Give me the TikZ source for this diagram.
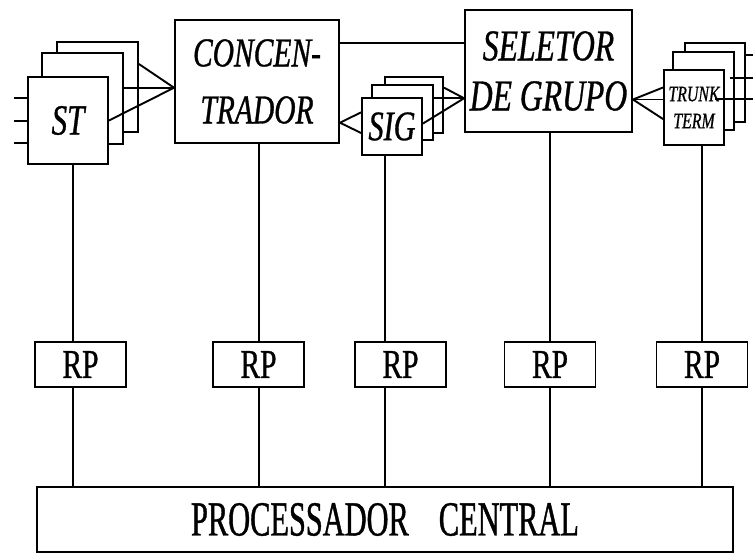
\documentclass[tikz,border=0pt]{standalone}
\usepackage{fontspec}
\setmainfont{Liberation Serif}[FakeStretch=0.72, FakeBold=0.8]
\newfontfamily\procfont{Liberation Serif}[FakeStretch=0.62, FakeBold=0.8]
\usetikzlibrary{calc}

\begin{document}
\begin{tikzpicture}[
  x=1pt, y=-1pt,
  box/.style={draw, line width=1.9pt, fill=white, inner sep=0pt},
  lnk/.style={line width=1.9pt},
  bus/.style={line width=1.1pt},
  rp/.style={box, minimum width=91pt, minimum height=45pt, font=\fontsize{41}{41}\selectfont}
]
  \useasboundingbox (0,0) rectangle (753,553);

  % ST stack
  \node[box, minimum width=81pt, minimum height=90pt] (st3) at (97.5,87) {};
  \node[box, minimum width=81pt, minimum height=91pt] (st2) at (82.5,98.5) {};
  \node[box, minimum width=80pt, minimum height=87pt, font=\fontsize{43}{43}\selectfont\itshape] (st) at (68,120.5) {ST};

  \node[box, minimum width=164pt, minimum height=123pt, align=center,
        font=\fontsize{41}{57}\selectfont\itshape] (conc) at (257,81.5) {CONCEN-\\TRADOR};
  \node[box, minimum width=167pt, minimum height=122pt, align=center,
        font=\fontsize{44}{50}\selectfont\itshape] (sel) at (548.5,71) {SELETOR\\DE GRUPO};

  % SIG stack
  \node[box, minimum width=58pt, minimum height=56pt] (sig3) at (414,105) {};
  \node[box, minimum width=61pt, minimum height=55pt] (sig2) at (402.5,112.5) {};
  \node[box, minimum width=60pt, minimum height=57pt, font=\fontsize{42}{42}\selectfont\itshape] (sig) at (392,126.5) {\raisebox{-9pt}{SIG}};

  % trunk stack
  \node[box, minimum width=60pt, minimum height=79pt] (tr3) at (715,82.5) {};
  \node[box, minimum width=61pt, minimum height=78pt] (tr2) at (703.5,91) {};
  \node[box, minimum width=60pt, minimum height=75pt, align=center,
        font=\fontsize{22}{27}\selectfont\itshape] (tr) at (694,107.5) {TRUNK\\TERM};

  % links
  \coordinate (cin) at ($(conc.north west)!.55!(conc.south west)$);
  \draw[lnk] ($(st3.north east)!.25!(st3.south east)$) -- (cin);
  \draw[lnk] (st2.east |- cin) -- (cin);
  \draw[lnk] (st.east) -- (cin);
  \foreach \y [count=\i] in {98,121,143} {
    \coordinate (in\i) at (14,\y);
    \draw[lnk] (in\i) -- (in\i -| st.west);
  }

  \coordinate (c1) at ($(conc.north east)!.19!(conc.south east)$);
  \draw[lnk] (c1) -- (c1 -| sel.west);

  \coordinate (cout) at ($(conc.north east)!.83!(conc.south east)$);
  \draw[lnk] ($(sig.north west)!.26!(sig.south west)$) -- (cout) -- ($(sig.north west)!.61!(sig.south west)$);
  \coordinate (sin) at ($(sel.north west)!.72!(sel.south west)$);
  \draw[lnk] ($(sig3.north east)!.2!(sig3.south east)$) -- (sin);
  \draw[lnk] (sig2.east |- sin) -- (sin);
  \draw[lnk] ($(sig.north east)!.45!(sig.south east)$) -- (sin);

  \coordinate (sout) at ($(sel.north east)!.73!(sel.south east)$);
  \draw[lnk] ($(tr.north west)!.24!(tr.south west)$) -- (sout) -- ($(tr.north west)!.65!(tr.south west)$);
  \draw[lnk] (sout) -- (tr.west |- sout);
  \coordinate (out1) at (753,55);
  \coordinate (out2) at (753,78);
  \coordinate (out3) at (753,99);
  \draw[lnk] (tr3.east |- out1) -- (out1);
  \draw[lnk] ([xshift=-5pt]tr2.east |- out2) -- (out2);
  \draw[lnk] ([xshift=-10pt]tr.east |- out3) -- (out3);

  % regional processors
  \node[rp] (rp1) at (80.5,364.5) {RP};
  \node[rp] (rp2) at (258.5,364.5) {RP};
  \node[rp] (rp3) at (400.5,364.5) {RP};
  \node[rp] (rp4) at (550,364.5) {RP};
  \node[rp] (rp5) at (702,364.5) {RP};

  \node[box, minimum width=696pt, minimum height=65pt,
        font=\procfont\fontsize{49}{49}\selectfont] (proc) at (385,519.5) {PROCESSADOR\hspace{30pt}CENTRAL};

  \foreach \up/\rp/\x in {st/rp1/73, conc/rp2/259, sig/rp3/385, sel/rp4/550, tr/rp5/702} {
    \draw[bus] (\up.south -| \x,0) -- (\rp.north -| \x,0);
    \draw[bus] (\rp.south -| \x,0) -- (proc.north -| \x,0);
  }
\end{tikzpicture}
\end{document}
